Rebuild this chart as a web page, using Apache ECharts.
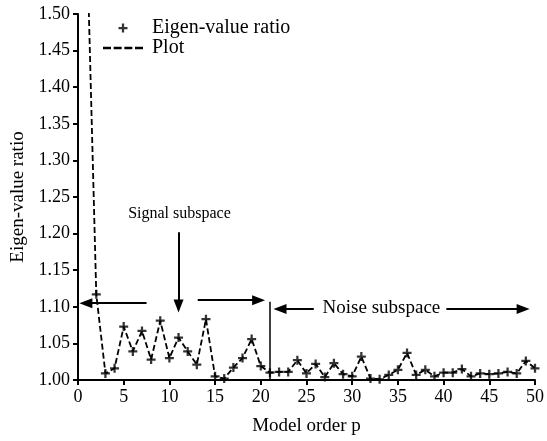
<!DOCTYPE html>
<html><head><meta charset="utf-8">
<script src="https://cdn.jsdelivr.net/npm/echarts@6/dist/echarts.min.js"></script>
<style>html,body{margin:0;padding:0;background:#fff}#c{width:547px;height:441px}</style>
</head><body><div id="c"></div>
<script>
const modelOrder = [1,2,3,4,5,6,7,8,9,10,11,12,13,14,15,16,17,18,19,20,21,22,23,24,25,26,27,28,29,30,31,32,33,34,35,36,37,38,39,40,41,42,43,44,45,46,47,48,49,50];
const eigenRatio = [1.59,1.117,1.009,1.016,1.073,1.039,1.067,1.028,1.081,1.030,1.058,1.039,1.021,1.083,1.005,1.002,1.017,1.030,1.056,1.019,1.010,1.011,1.011,1.027,1.009,1.022,1.004,1.023,1.008,1.005,1.032,1.002,1.001,1.007,1.014,1.037,1.007,1.014,1.005,1.010,1.010,1.015,1.005,1.009,1.008,1.009,1.011,1.009,1.026,1.016];
const xTicks = [0,5,10,15,20,25,30,35,40,45,50];
const yTicks = [1.00,1.05,1.10,1.15,1.20,1.25,1.30,1.35,1.40,1.45,1.50];

const FONT = 'Liberation Serif';
const plusPath = 'path://M-1,-4H1V-1H4V1H1V4H-1V1H-4V-1H-1Z';
const dashIcon = 'path://M0,0H8V2.5H0Z M10.67,0H18.67V2.5H10.67Z M21.33,0H29.33V2.5H21.33Z M32,0H40V2.5H32Z';
const pts = modelOrder.map((p, i) => [p, eigenRatio[i]]);

const arrowStyle = {color: '#000', width: 2, type: 'solid'};
function arrow(from, to) {
  return [{coord: from, symbol: 'none'}, {coord: to, symbol: 'triangle', symbolSize: [10, 13]}];
}

const chart = echarts.init(document.getElementById('c'), null, {renderer: 'canvas'});
chart.setOption({
  animation: false,
  backgroundColor: '#fff',
  grid: {left: 78, right: 6, top: 14, bottom: 61, containLabel: false},
  legend: {
    orient: 'vertical', left: 98, top: 13, itemWidth: 40, itemHeight: 9, itemGap: 0,
    textStyle: {fontFamily: FONT, fontSize: 20, color: '#000', padding: [0, 0, 0, 4]},
    data: [
      {name: 'Eigen-value ratio', icon: plusPath, itemStyle: {color: '#000'}},
      {name: 'Plot', icon: dashIcon, itemStyle: {color: '#000'}}
    ]
  },
  xAxis: {
    type: 'value', min: xTicks[0], max: xTicks[xTicks.length - 1], interval: 5,
    name: 'Model order p', nameLocation: 'middle', nameGap: 37,
    nameTextStyle: {fontFamily: FONT, fontSize: 19, color: '#000'},
    axisLine: {show: true, onZero: false, lineStyle: {color: '#000', width: 2}},
    axisTick: {show: true, inside: false, length: 5, lineStyle: {color: '#000', width: 2}},
    axisLabel: {fontFamily: FONT, fontSize: 18, color: '#000', margin: 8},
    splitLine: {show: false}
  },
  yAxis: {
    type: 'value', min: yTicks[0], max: yTicks[yTicks.length - 1], interval: 0.05,
    name: 'Eigen-value ratio', nameLocation: 'middle', nameGap: 48, nameRotate: 90,
    nameTextStyle: {fontFamily: FONT, fontSize: 19, color: '#000'},
    axisLine: {show: true, onZero: false, lineStyle: {color: '#000', width: 2}},
    axisTick: {show: true, inside: false, length: 5, lineStyle: {color: '#000', width: 2}},
    axisLabel: {fontFamily: FONT, fontSize: 18, color: '#000', margin: 8, formatter: v => v.toFixed(2)},
    splitLine: {show: false}
  },
  series: [
    {
      name: 'Plot', type: 'line', data: pts, symbol: 'none', clip: true, z: 2,
      lineStyle: {color: '#000', width: 1.8, type: [6, 3]},
      itemStyle: {color: '#000'}
    },
    {
      name: 'Eigen-value ratio', type: 'scatter', data: pts, symbol: plusPath, symbolSize: 9,
      clip: true, itemStyle: {color: '#000'}, z: 3
    },
    {
      name: 'annotations', type: 'line', data: [], clip: false, z: 4,
      markLine: {
        silent: true, animation: false, symbol: ['none', 'none'], precision: 4,
        label: {show: false},
        lineStyle: arrowStyle,
        emphasis: {disabled: true},
        data: [
          arrow([7.5, 1.105], [0.86, 1.105]),
          arrow([11.0, 1.202], [11.0, 1.101]),
          arrow([13.1, 1.109], [19.76, 1.109]),
          arrow([25.8, 1.097], [22.1, 1.097]),
          arrow([40.3, 1.097], [48.7, 1.097]),
          [{coord: [21.0, 1.0], symbol: 'none', lineStyle: {width: 1.5}}, {coord: [21.0, 1.107], symbol: 'none'}]
        ]
      },
      markPoint: {
        silent: true, symbol: 'circle', symbolSize: 0, animation: false,
        label: {show: true, position: 'inside', fontFamily: FONT, color: '#000', formatter: p => p.name},
        data: [
          {name: 'Signal subspace', coord: [11.1, 1.227], label: {fontSize: 16}},
          {name: 'Noise subspace', coord: [33.2, 1.098], label: {fontSize: 19}}
        ]
      }
    }
  ]
});
</script></body></html>
